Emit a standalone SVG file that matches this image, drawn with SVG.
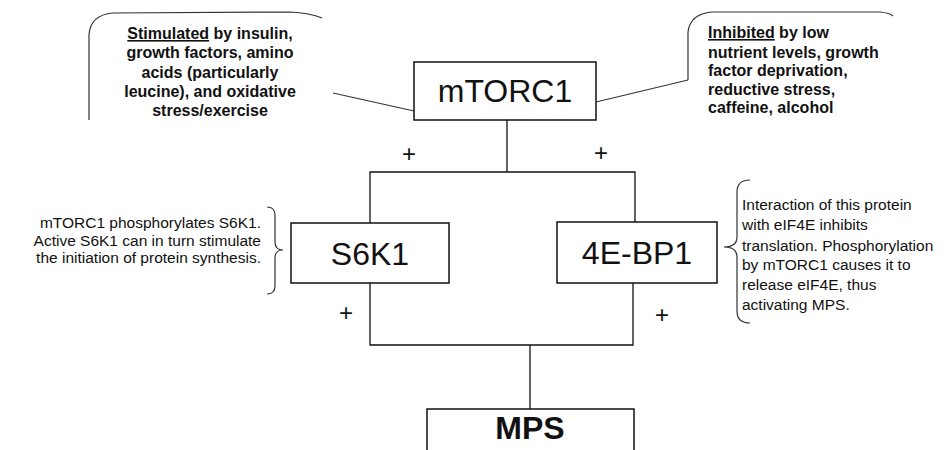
<svg xmlns="http://www.w3.org/2000/svg" width="950" height="450" viewBox="0 0 950 450">
<style>
.box{fill:#fff;stroke:#111;stroke-width:1.5}
.ln{fill:none;stroke:#111;stroke-width:1.3}
.co{fill:none;stroke:#333;stroke-width:1.2}
.lbl{font-family:"Liberation Sans",Arial,sans-serif;font-size:32px;fill:#111;text-anchor:middle}
.cb{font-family:"Liberation Sans",Arial,sans-serif;font-size:16px;font-weight:bold;fill:#111}
.an{font-family:"Liberation Sans",Arial,sans-serif;font-size:15.5px;fill:#111}
.pl{font-family:"Liberation Sans",Arial,sans-serif;font-size:24px;fill:#111;text-anchor:middle}
</style>
<rect width="950" height="450" fill="#fff"/>
<g id="connectors">
<path class="ln" d="M507,120 V172"/>
<path class="ln" d="M370,223 V172 H635 V222"/>
<path class="ln" d="M370,283 V345 H633 V283"/>
<path class="ln" d="M530,345 V409"/>
<path class="co" d="M333,93 L414,111"/>
<path class="co" d="M596,102 L688,80"/>
<text class="pl" x="409" y="162">+</text>
<text class="pl" x="601" y="161">+</text>
<text class="pl" x="346" y="321">+</text>
<text class="pl" x="662" y="323">+</text>
</g>
<g id="stimulated">
<path class="co" d="M89,120 L89,35 Q90,15 113,13 L290,12 Q310,13 322,18"/>
<text class="cb" text-anchor="middle" x="210"><tspan x="210" y="39"><tspan text-decoration="underline">Stimulated</tspan> by insulin,</tspan><tspan x="210" y="58">growth factors, amino</tspan><tspan x="210" y="78">acids (particularly</tspan><tspan x="210" y="97">leucine), and oxidative</tspan><tspan x="210" y="116">stress/exercise</tspan></text>
</g>
<g id="inhibited">
<path class="co" d="M688,80 L688,32 Q690,14 712,12 L880,12 Q890,13 893,16"/>
<text class="cb" x="708"><tspan x="708" y="38"><tspan text-decoration="underline">Inhibited</tspan> by low</tspan><tspan x="708" y="58">nutrient levels, growth</tspan><tspan x="708" y="76">factor deprivation,</tspan><tspan x="708" y="95">reductive stress,</tspan><tspan x="708" y="113">caffeine, alcohol</tspan></text>
</g>
<g id="mTORC1">
<rect class="box" x="414" y="62" width="182" height="58"/>
<text class="lbl" x="505" y="102">mTORC1</text>
</g>
<g id="S6K1">
<rect class="box" x="291" y="223" width="158" height="60"/>
<text class="lbl" x="370" y="265">S6K1</text>
</g>
<g id="S6K1-note">
<path class="co" d="M267,207 Q275,207 275,215 L275,242 Q275,250 283,250 Q275,250 275,258 L275,286 Q275,294 267,294"/>
<text class="an" text-anchor="end" font-size="16.3"><tspan x="261" y="228">mTORC1 phosphorylates S6K1.</tspan><tspan x="261" y="246">Active S6K1 can in turn stimulate</tspan><tspan x="261" y="263">the initiation of protein synthesis.</tspan></text>
</g>
<g id="4E-BP1">
<rect class="box" x="557" y="222" width="160" height="61"/>
<text class="lbl" x="637" y="264">4E-BP1</text>
</g>
<g id="4E-BP1-note">
<path class="co" d="M750,180 Q737,180 737,192 L737,237 Q737,247 724,247 Q737,247 737,257 L737,311 Q737,323 750,323"/>
<text class="an"><tspan x="742" y="210">Interaction of this protein</tspan><tspan x="742" y="230">with eIF4E inhibits</tspan><tspan x="742" y="251">translation. Phosphorylation</tspan><tspan x="742" y="270">by mTORC1 causes it to</tspan><tspan x="742" y="290">release eIF4E, thus</tspan><tspan x="742" y="310">activating MPS.</tspan></text>
</g>
<g id="MPS">
<rect class="box" x="427" y="409" width="207" height="60"/>
<text class="lbl" x="530" y="439" font-weight="bold" font-size="30">MPS</text>
</g>
</svg>
